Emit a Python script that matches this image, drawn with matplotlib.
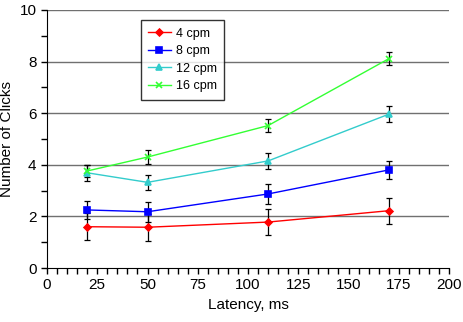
import matplotlib
matplotlib.use('Agg')
import matplotlib.pyplot as plt
from matplotlib.ticker import MultipleLocator

plt.rcParams['font.family'] = ['Liberation Sans', 'DejaVu Sans']

latency = [20, 50, 110, 170]

cpm4 = [1.60, 1.58, 1.78, 2.22]
cpm4_err = [0.53, 0.52, 0.50, 0.50]
cpm8 = [2.25, 2.18, 2.87, 3.80]
cpm8_err = [0.36, 0.38, 0.38, 0.36]
cpm12 = [3.69, 3.32, 4.15, 5.96]
cpm12_err = [0.30, 0.29, 0.30, 0.32]
cpm16 = [3.76, 4.30, 5.52, 8.11]
cpm16_err = [0.25, 0.26, 0.26, 0.25]

series = [
    ('4 cpm', cpm4, cpm4_err, '#ff0000', 'D', 3.5),
    ('8 cpm', cpm8, cpm8_err, '#0000ff', 's', 4.5),
    ('12 cpm', cpm12, cpm12_err, '#33cccc', '^', 4.5),
    ('16 cpm', cpm16, cpm16_err, '#33ff33', 'x', 4.5),
]

fig = plt.figure(figsize=(4.63, 3.22), dpi=100)
ax = fig.add_axes([0.1015, 0.1677, 0.8683, 0.8013])

for y in [2, 4, 6, 8, 10]:
    ax.axhline(y, color='#707070', lw=1.0, zorder=0)

for label, vals, err, col, mk, ms in series:
    ax.errorbar(latency, vals, yerr=err, fmt='none', ecolor='black',
                elinewidth=0.9, capsize=2.5, capthick=0.9, zorder=2)
    ax.plot(latency, vals, color=col, marker=mk, markersize=ms, lw=1.0,
            label=label, markeredgewidth=1.2, zorder=3)

ax.set_xlim(0, 200)
ax.set_ylim(0, 10)
ax.xaxis.set_major_locator(MultipleLocator(25))
ax.xaxis.set_minor_locator(MultipleLocator(5))
ax.yaxis.set_major_locator(MultipleLocator(2))
ax.yaxis.set_minor_locator(MultipleLocator(1))
ax.tick_params(which='both', direction='out', length=4, width=1, labelsize=11)
ax.spines['top'].set_visible(False)
ax.spines['right'].set_visible(False)

ax.set_xlabel('Latency, ms', fontsize=11)
ax.set_ylabel('Number of Clicks', fontsize=11)

leg = ax.legend(loc='upper left', bbox_to_anchor=(0.233, 0.961), fontsize=9,
                frameon=True, fancybox=False, edgecolor='black',
                handlelength=1.8, borderpad=0.6, labelspacing=0.45,
                handletextpad=0.4, borderaxespad=0)
leg.get_frame().set_linewidth(1.0)

fig.savefig('out.png', dpi=100)
